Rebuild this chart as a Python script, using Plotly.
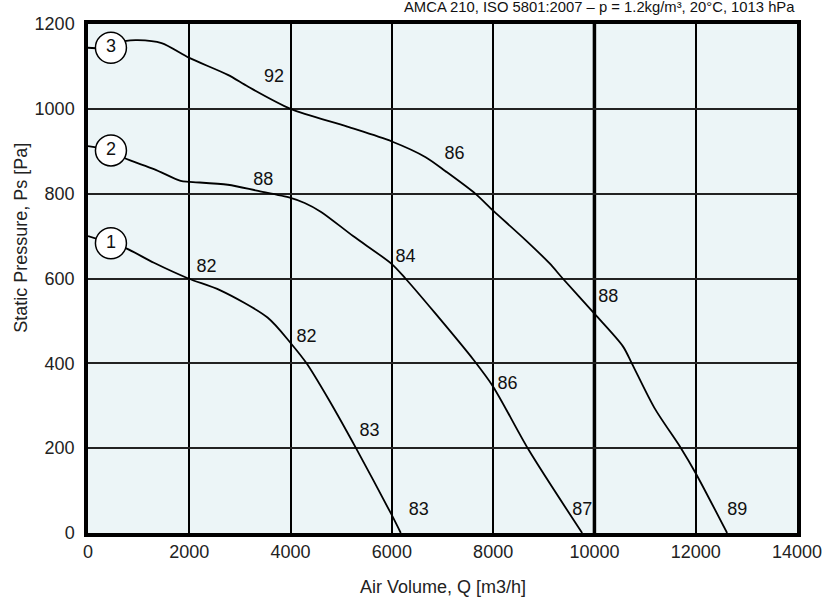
import plotly.graph_objects as go

# Curve data: air volume Q [m3/h] vs static pressure Ps [Pa]
q1 = [0, 453, 755, 1302, 1981, 2614, 3545, 4000, 4316, 4756, 5292, 6000, 6176]
p1 = [700, 683, 671, 637, 600, 572, 508, 448, 400, 314, 200, 42, 0]

q2 = [0, 453, 717, 1302, 1830, 2000, 2762, 3333, 4000, 4278, 4603, 5234, 6000, 6268, 6842, 7608, 8000, 8707, 9758]
p2 = [912, 902, 884, 858, 830, 828, 821, 807, 790, 778, 757, 700, 634, 600, 520, 409, 345, 195, 0]

q3 = [0, 453, 755, 981, 1453, 2000, 2762, 3164, 4000, 5120, 6000, 6667, 7059, 7647, 8000, 8646, 9111, 9374,
      10000, 10563, 10738, 11184, 11709, 12000, 12620]
p3 = [1144, 1144, 1160, 1162, 1155, 1120, 1080, 1052, 1000, 958, 923, 886, 853, 800, 760, 690, 636, 600,
      517, 440, 400, 295, 200, 141, 0]

# Curve number badges
badge_q = [453, 453, 453]
badge_p = [683, 902, 1144]
badge_t = ["1", "2", "3"]

# Efficiency / noise labels along curves
label_q = [2339, 4316, 5560, 6529, 3460, 6268, 8283, 9758, 3672, 7235, 10272, 12820]
label_p = [627, 462, 240, 54, 830, 649, 350, 54, 1073, 893, 556, 54]
label_t = ["82", "82", "83", "83", "88", "84", "86", "87", "92", "86", "88", "89"]

x_ticks = [0, 2000, 4000, 6000, 8000, 10000, 12000, 14000]
y_ticks = [0, 200, 400, 600, 800, 1000, 1200]
emphasis_q = x_ticks[5]  # heavier vertical grid line

FONT = "Liberation Sans, Arial, sans-serif"

fig = go.Figure()
for q, p in [(q1, p1), (q2, p2), (q3, p3)]:
    fig.add_trace(go.Scatter(x=q, y=p, mode="lines",
                             line=dict(color="black", width=1.8, shape="spline", smoothing=0.8),
                             hoverinfo="skip", showlegend=False))

fig.add_trace(go.Scatter(x=label_q, y=label_p, mode="text", text=label_t,
                         textfont=dict(family=FONT, size=18, color="#111"),
                         textposition="middle center", showlegend=False, hoverinfo="skip"))

fig.add_trace(go.Scatter(x=badge_q, y=badge_p, mode="markers+text", text=badge_t,
                         marker=dict(size=31, color="white", line=dict(color="black", width=1.5)),
                         textfont=dict(family=FONT, size=18, color="#111"),
                         textposition="middle center", showlegend=False, hoverinfo="skip"))

fig.add_vline(x=emphasis_q, line=dict(color="black", width=3.5), layer="below")

fig.update_xaxes(range=[0, 14000], tickvals=x_ticks, ticktext=[str(v) for v in x_ticks],
                 showgrid=True, gridcolor="black", gridwidth=2,
                 showline=True, linecolor="black", linewidth=3.5, mirror=True,
                 ticks="", zeroline=False,
                 tickfont=dict(family=FONT, size=18, color="#222"))
fig.update_yaxes(range=[0, 1200], tickvals=y_ticks, ticktext=[str(v) for v in y_ticks],
                 showgrid=True, gridcolor="#222", gridwidth=2,
                 showline=True, linecolor="black", linewidth=3.5, mirror=True,
                 ticks="", zeroline=False, ticklabelstandoff=6,
                 tickfont=dict(family=FONT, size=18, color="#222"))

fig.update_layout(
    width=840, height=601,
    margin=dict(l=88, r=43, t=24, b=68),
    plot_bgcolor="#ECF5F7", paper_bgcolor="white",
    font=dict(family=FONT, color="#222"),
    annotations=[
        dict(text="Air Volume, Q [m3/h]", xref="paper", yref="paper", x=0.5, y=-0.106,
             xanchor="center", yanchor="middle", showarrow=False,
             font=dict(family=FONT, size=18, color="#222")),
        dict(text="Static Pressure, Ps [Pa]", xref="paper", yref="paper", x=-0.0945, y=0.58,
             xanchor="center", yanchor="middle", textangle=-90, showarrow=False,
             font=dict(family=FONT, size=18, color="#222")),
        dict(text="AMCA 210, ISO 5801:2007 \u2013 p = 1.2kg/m\u00b3, 20\u00b0C, 1013 hPa",
             xref="paper", yref="paper", x=1.0, y=1.0, yshift=17,
             xanchor="right", yanchor="middle", showarrow=False,
             font=dict(family=FONT, size=14.8, color="#111")),
    ],
)

fig.write_html("out.html", config={"displayModeBar": False},
               post_script="document.body.style.margin='0px';")
